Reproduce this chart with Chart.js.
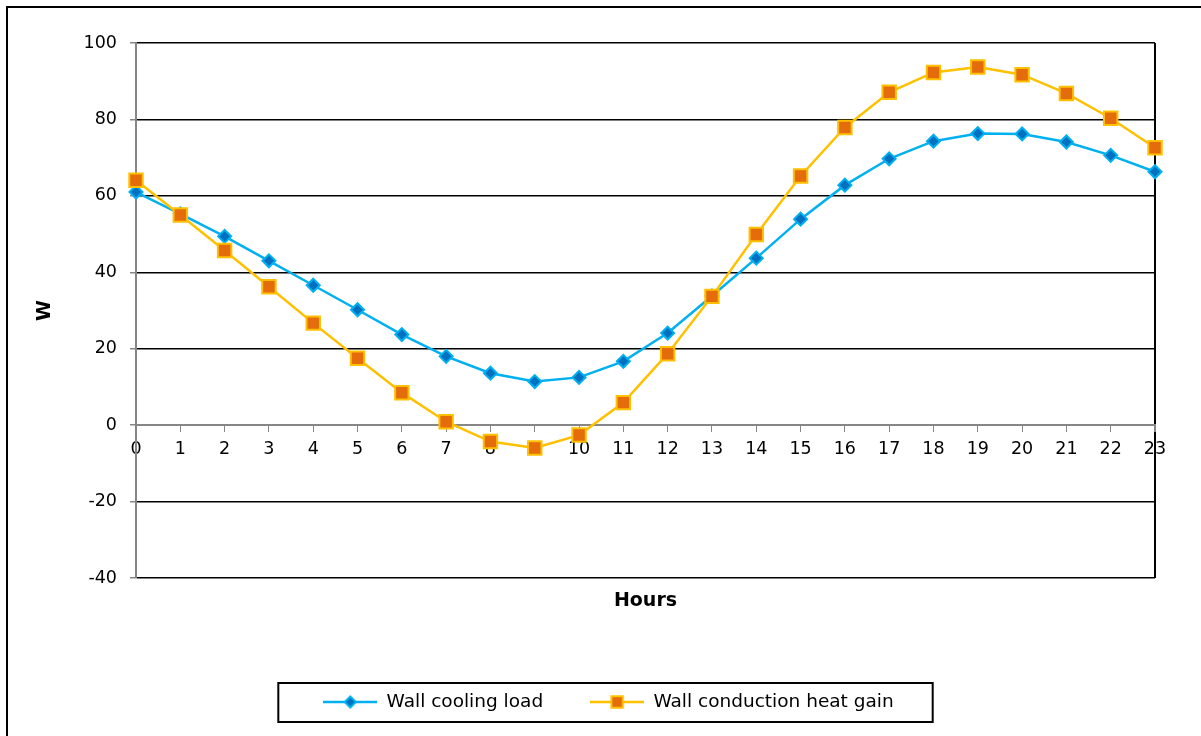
<!DOCTYPE html>
<html>
<head>
<meta charset="utf-8">
<script src="https://cdn.jsdelivr.net/npm/chart.js@4.4.1/dist/chart.umd.min.js"></script>
<style>
  html, body { margin: 0; padding: 0; background: #fff; overflow: hidden; }
  #wrap { position: relative; width: 1201px; height: 736px; overflow: hidden; background: #fff; }
  #frame { position: absolute; left: 6px; top: 6px; width: 1300px; height: 900px;
           border-left: 2px solid #000; border-top: 2px solid #000; pointer-events: none; }
  canvas { position: absolute; left: 0; top: 0; }
</style>
</head>
<body>
<div id="wrap">
  <div id="frame"></div>
  <canvas id="chart" width="1201" height="736"></canvas>
</div>
<script>
// Hour of day (x axis categories)
const hours = ['0','1','2','3','4','5','6','7','8','9','10','11','12','13','14','15','16','17','18','19','20','21','22','23'];

// Wall cooling load, W
const coolingLoad = [61.0, 55.3, 49.4, 43.0, 36.6, 30.2, 23.7, 18.0, 13.6, 11.4, 12.5, 16.7,
                     24.1, 33.8, 43.7, 53.9, 62.8, 69.7, 74.3, 76.3, 76.2, 74.1, 70.6, 66.3];

// Wall conduction heat gain, W
const heatGain = [64.1, 55.0, 45.7, 36.2, 26.7, 17.5, 8.5, 0.9, -4.3, -6.0, -2.6, 5.9,
                  18.7, 33.7, 49.9, 65.2, 77.9, 87.1, 92.3, 93.7, 91.7, 86.8, 80.3, 72.6];

// Value axis range
const yMin = -40;
const yMax = 100;
const yStep = 20;

const seriesNames = ['Wall cooling load', 'Wall conduction heat gain'];

const FONT = "'DejaVu Sans', sans-serif";
const AXIS_GRAY = '#868686';

const styles = [
  { line: '#00B0F0', fill: '#0070C0', edge: '#00B0F0', shape: 'rectRot', radius: 6.5, edgeWidth: 2 },
  { line: '#FFC000', fill: '#E46C0A', edge: '#FFC000', shape: 'rect', radius: 9.5, edgeWidth: 2 }
];
const legendMarkerScale = 0.85;

// Small legend swatch: a line segment with the series marker in the middle
function legendIcon(st) {
  const c = document.createElement('canvas');
  c.width = 54; c.height = 20;
  const g = c.getContext('2d');
  g.strokeStyle = st.line; g.lineWidth = 2.5;
  g.beginPath(); g.moveTo(0, 10); g.lineTo(54, 10); g.stroke();
  g.fillStyle = st.fill; g.strokeStyle = st.edge; g.lineWidth = st.edgeWidth;
  Chart.helpers.drawPoint(g, { pointStyle: st.shape, radius: st.radius * legendMarkerScale,
                               borderWidth: st.edgeWidth, rotation: 0 }, 27, 10);
  return c;
}
const icons = styles.map(legendIcon);

// Box drawn around the legend row
const legendFrame = {
  id: 'legendFrame',
  afterDraw(chart) {
    const lg = chart.legend;
    if (!lg || !lg.legendHitBoxes || !lg.legendHitBoxes.length) return;
    const boxes = lg.legendHitBoxes;
    const first = boxes[0], last = boxes[boxes.length - 1];
    const cy = first.top + first.height / 2;
    const ctx = chart.ctx;
    ctx.save();
    ctx.strokeStyle = '#000';
    ctx.lineWidth = 2;
    ctx.strokeRect(first.left - 45, cy - 19, (last.left + last.width + 39) - (first.left - 45), 39);
    ctx.restore();
  }
};

const datasets = [coolingLoad, heatGain].map((vals, i) => ({
  label: seriesNames[i],
  data: vals,
  xAxisID: 'x',
  yAxisID: 'y',
  order: i === 0 ? 1 : 0,
  borderColor: styles[i].line,
  borderWidth: 2.5,
  pointStyle: styles[i].shape,
  pointRadius: styles[i].radius,
  pointHoverRadius: styles[i].radius,
  pointBackgroundColor: styles[i].fill,
  pointBorderColor: styles[i].edge,
  pointBorderWidth: styles[i].edgeWidth,
  tension: 0,
  fill: false,
  clip: false
}));

new Chart(document.getElementById('chart'), {
  type: 'line',
  data: { labels: hours, datasets },
  plugins: [legendFrame],
  options: {
    responsive: false,
    animation: false,
    devicePixelRatio: 1,
    events: [],
    layout: { padding: { left: 20, right: 4, top: 43, bottom: 14.75 } },
    plugins: {
      tooltip: { enabled: false },
      legend: {
        display: true,
        position: 'bottom',
        labels: {
          usePointStyle: true,
          pointStyleWidth: 54,
          padding: 47,
          color: '#000',
          font: { family: FONT, size: 18.5 },
          sort: (a, b) => a.datasetIndex - b.datasetIndex,
          generateLabels(chart) {
            const items = Chart.defaults.plugins.legend.labels.generateLabels(chart);
            items.forEach(it => { it.pointStyle = icons[it.datasetIndex]; });
            return items;
          }
        }
      }
    },
    scales: {
      x: {
        type: 'category',
        position: { y: 0 },
        offset: false,
        ticks: { color: '#000', font: { family: FONT, size: 17.5 }, padding: 7.5, autoSkip: false, maxRotation: 0 },
        grid: {
          color: c => c.index === hours.length - 1 ? '#000' : 'rgba(0,0,0,0)',
          lineWidth: c => c.index === hours.length - 1 ? 2 : 1,
          tickColor: AXIS_GRAY,
          tickLength: 6
        },
        border: { color: AXIS_GRAY, width: 2 }
      },
      x2: {
        type: 'category',
        labels: hours,
        position: 'bottom',
        offset: false,
        ticks: { display: false },
        grid: { display: false },
        border: { display: false },
        title: { display: true, text: 'Hours', color: '#000',
                 font: { family: FONT, size: 19, weight: 'bold' }, padding: { top: 0, bottom: 33.35 } },
        afterFit(s) { s.height = 67.75; }
      },
      y: {
        position: 'left',
        min: yMin,
        max: yMax,
        ticks: { stepSize: yStep, color: '#000', font: { family: FONT, size: 17.5 }, padding: 13 },
        grid: {
          color: c => (c.tick && c.tick.value === 0) ? 'rgba(0,0,0,0)' : '#000',
          lineWidth: 1.5,
          tickColor: AXIS_GRAY,
          tickLength: 6
        },
        border: { color: AXIS_GRAY, width: 2 },
        title: { display: true, text: 'W', color: '#000',
                 font: { family: FONT, size: 19, weight: 'bold' }, padding: { top: 13.6, bottom: 0 } },
        afterFit(s) { s.width = 116; }
      },
      y2: {
        position: 'right',
        min: yMin,
        max: yMax,
        ticks: { display: false },
        grid: { display: false },
        border: { display: false },
        afterFit(s) { s.width = 42; }
      }
    }
  }
});
</script>
</body>
</html>
